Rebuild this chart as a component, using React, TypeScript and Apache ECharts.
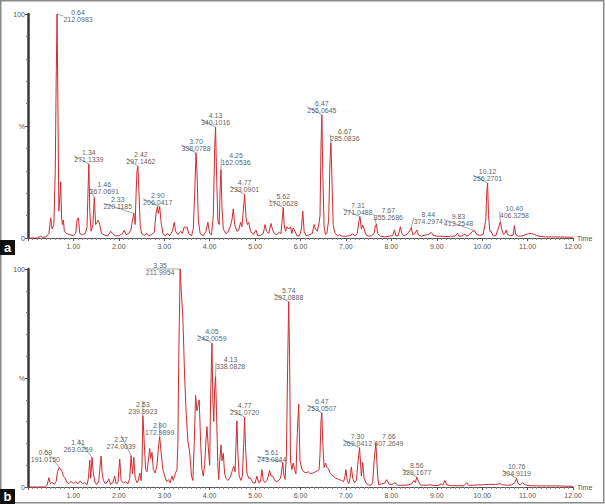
import React, { useEffect, useRef } from "react";
import * as echarts from "echarts";

// Panel a chromatogram: [retention time (min), relative intensity (%)]
const traceA: [number, number][] = [
  [0.0, 0], [0.2, 0], [0.28, 0.8], [0.32, 0.3], [0.4, 0.5], [0.46, 2], [0.5, 9], [0.53, 4], [0.57, 6],
  [0.6, 30], [0.62, 70], [0.64, 100], [0.66, 55], [0.68, 12], [0.7, 18], [0.72, 25], [0.74, 9], [0.76, 6],
  [0.78, 8], [0.8, 3], [0.85, 2], [0.92, 1.5], [1.0, 1], [1.05, 2], [1.08, 8], [1.11, 9], [1.14, 2],
  [1.2, 1.5], [1.26, 2], [1.3, 5], [1.32, 20], [1.34, 33], [1.36, 12], [1.39, 3], [1.43, 6], [1.46, 18],
  [1.49, 6], [1.52, 7], [1.55, 8], [1.58, 6], [1.62, 2], [1.7, 1.2], [1.76, 1], [1.82, 3], [1.86, 2],
  [1.92, 1], [2.0, 1], [2.08, 2], [2.12, 3.5], [2.16, 1.5], [2.22, 2], [2.27, 4], [2.3, 8], [2.33, 11],
  [2.36, 6], [2.38, 20], [2.4, 30], [2.42, 32], [2.44, 22], [2.47, 6], [2.5, 2], [2.56, 1.2], [2.62, 2],
  [2.66, 1], [2.72, 1.5], [2.78, 2.5], [2.82, 11], [2.85, 14], [2.87, 11], [2.9, 14], [2.93, 7], [2.97, 2],
  [3.02, 1], [3.08, 2], [3.12, 1], [3.18, 3], [3.22, 7], [3.25, 3], [3.3, 1.5], [3.36, 3], [3.4, 2],
  [3.44, 5], [3.47, 4.5], [3.5, 5], [3.54, 2], [3.6, 1], [3.64, 4], [3.67, 20], [3.7, 38], [3.72, 30],
  [3.75, 8], [3.79, 2], [3.86, 1], [3.92, 3], [3.96, 7], [4.0, 2], [4.04, 1.5], [4.08, 10], [4.11, 40],
  [4.13, 49.5], [4.15, 30], [4.18, 8], [4.21, 6], [4.23, 22], [4.25, 30.5], [4.27, 14], [4.3, 4],
  [4.36, 2], [4.4, 2.5], [4.45, 5], [4.49, 8], [4.52, 13], [4.55, 6], [4.6, 3], [4.64, 3.5], [4.68, 7],
  [4.71, 5], [4.74, 12], [4.77, 19.5], [4.8, 9], [4.83, 6], [4.86, 7], [4.9, 3], [4.96, 1.5], [5.02, 3.5],
  [5.06, 1], [5.12, 1.2], [5.18, 2], [5.22, 6], [5.25, 3], [5.3, 2], [5.35, 6.5], [5.38, 4], [5.42, 2],
  [5.48, 1.5], [5.53, 2.5], [5.57, 2], [5.6, 9], [5.62, 13.5], [5.64, 6], [5.67, 3], [5.7, 5], [5.74, 4],
  [5.78, 5], [5.81, 2], [5.84, 4.5], [5.88, 3], [5.92, 1], [5.98, 1], [6.02, 4], [6.05, 12], [6.08, 3],
  [6.12, 1], [6.2, 1.5], [6.26, 2], [6.3, 6], [6.33, 4], [6.37, 3], [6.41, 7], [6.43, 10], [6.45, 40],
  [6.47, 55], [6.49, 30], [6.52, 5], [6.55, 1.5], [6.58, 2], [6.62, 8], [6.65, 35], [6.67, 42.5],
  [6.69, 28], [6.72, 6], [6.76, 2], [6.82, 1], [6.86, 1.5], [6.92, 0.8], [7.0, 0.8], [7.08, 1],
  [7.15, 1.8], [7.2, 1], [7.25, 2], [7.29, 8], [7.31, 9.5], [7.34, 4], [7.37, 5.8], [7.4, 4], [7.44, 1.5],
  [7.5, 0.8], [7.56, 1], [7.62, 2], [7.65, 5.5], [7.67, 6.1], [7.7, 2], [7.76, 0.8], [7.85, 0.5],
  [7.95, 0.8], [8.03, 1], [8.07, 3.6], [8.1, 1], [8.15, 1], [8.2, 5], [8.23, 2], [8.28, 1], [8.34, 1.5],
  [8.38, 2.5], [8.41, 3.5], [8.44, 4.6], [8.47, 1.5], [8.52, 2], [8.56, 3.6], [8.6, 1.2], [8.66, 0.8],
  [8.72, 1.2], [8.8, 1.5], [8.85, 2], [8.88, 2.5], [8.92, 1.2], [9.0, 0.8], [9.1, 0.8], [9.2, 0.6],
  [9.3, 0.8], [9.4, 0.8], [9.46, 2.1], [9.49, 0.8], [9.55, 0.8], [9.62, 1.8], [9.66, 0.8], [9.72, 1.5],
  [9.78, 2.8], [9.83, 3.3], [9.88, 1.5], [9.95, 1.2], [10.02, 1.5], [10.08, 8], [10.1, 20], [10.12, 24.5],
  [10.14, 10], [10.17, 3], [10.2, 2.8], [10.24, 1], [10.3, 1], [10.35, 4], [10.4, 7.3], [10.43, 4],
  [10.47, 1.5], [10.5, 2], [10.53, 3.6], [10.56, 1.5], [10.62, 1], [10.68, 1.2], [10.71, 5.5],
  [10.74, 1.5], [10.8, 0.8], [10.9, 1], [11.0, 1.8], [11.08, 2], [11.15, 1.6], [11.25, 0.8], [11.4, 0.5],
  [11.6, 0.5], [11.8, 0.4], [12.0, 0.3],
];

// Panel b chromatogram
const traceB: [number, number][] = [
  [0.0, 0], [0.38, 0], [0.42, 0.8], [0.46, 4.3], [0.49, 1.5], [0.52, 2], [0.55, 1.8], [0.58, 1.2],
  [0.62, 2.5], [0.65, 7], [0.69, 9], [0.72, 8], [0.75, 7], [0.78, 5], [0.82, 4], [0.86, 2], [0.9, 1.5],
  [0.95, 2.6], [1.0, 1.5], [1.05, 2.5], [1.1, 1.5], [1.15, 2.8], [1.2, 1.5], [1.25, 2], [1.3, 1],
  [1.33, 4], [1.36, 12.4], [1.38, 4], [1.41, 13.6], [1.44, 6], [1.48, 1.8], [1.52, 1.2], [1.56, 3],
  [1.59, 10], [1.61, 14.2], [1.63, 7], [1.66, 3], [1.7, 1.5], [1.74, 2], [1.78, 3.7], [1.82, 1.2],
  [1.87, 2], [1.91, 5], [1.94, 1.5], [1.98, 2], [2.02, 12.8], [2.05, 3], [2.1, 1.8], [2.15, 2.5],
  [2.2, 1.5], [2.24, 4], [2.27, 14.4], [2.3, 6], [2.33, 13.6], [2.36, 4], [2.4, 2], [2.43, 3],
  [2.46, 6.4], [2.49, 3], [2.51, 10], [2.53, 32.7], [2.56, 20], [2.59, 8], [2.62, 7], [2.65, 12],
  [2.68, 17.7], [2.7, 13], [2.73, 15.9], [2.76, 8], [2.8, 6.4], [2.84, 10], [2.88, 20], [2.9, 23],
  [2.93, 16], [2.97, 8], [3.01, 5], [3.05, 2.5], [3.09, 3.4], [3.13, 2], [3.17, 5], [3.2, 3], [3.24, 6],
  [3.28, 8], [3.3, 20], [3.32, 60], [3.35, 100], [3.38, 88], [3.41, 77.5], [3.45, 50], [3.48, 35],
  [3.52, 21], [3.56, 16], [3.6, 5], [3.63, 3], [3.66, 20], [3.69, 42], [3.72, 35], [3.75, 38], [3.77, 40],
  [3.8, 21], [3.83, 8], [3.86, 5], [3.89, 10], [3.92, 22], [3.94, 27.7], [3.97, 18], [4.0, 10],
  [4.02, 40], [4.05, 66], [4.07, 40], [4.09, 30], [4.11, 45], [4.13, 50.6], [4.15, 35], [4.18, 10],
  [4.2, 3.4], [4.22, 12], [4.25, 19.3], [4.27, 12], [4.3, 15.5], [4.33, 6], [4.36, 4], [4.4, 3],
  [4.44, 4], [4.46, 5], [4.49, 7], [4.53, 9.5], [4.56, 7], [4.58, 20], [4.6, 30.4], [4.62, 16], [4.65, 5],
  [4.69, 3], [4.72, 5], [4.75, 20], [4.77, 32], [4.79, 18], [4.82, 6.4], [4.86, 4], [4.9, 4], [4.95, 2],
  [5.0, 1.8], [5.04, 5], [5.08, 2], [5.12, 2.5], [5.15, 8], [5.18, 3], [5.22, 2], [5.26, 3], [5.29, 5],
  [5.32, 7.6], [5.35, 5], [5.39, 5], [5.43, 3], [5.48, 2.5], [5.52, 3], [5.56, 4], [5.59, 8], [5.61, 11.3],
  [5.63, 6], [5.66, 3.5], [5.69, 15], [5.72, 60], [5.74, 85], [5.76, 60], [5.78, 12], [5.81, 8],
  [5.84, 11], [5.87, 8], [5.9, 6], [5.93, 25], [5.96, 38], [5.99, 12], [6.03, 8], [6.07, 7], [6.12, 6.5],
  [6.17, 7], [6.22, 6], [6.28, 6.5], [6.33, 7], [6.38, 7.5], [6.41, 8], [6.43, 15], [6.45, 30], [6.47, 34],
  [6.49, 20], [6.52, 9], [6.55, 11], [6.58, 9], [6.61, 8.5], [6.66, 6], [6.72, 5], [6.78, 4], [6.84, 3.5],
  [6.9, 3], [6.95, 2.5], [6.98, 5], [7.0, 8], [7.03, 3], [7.06, 1.5], [7.09, 4], [7.12, 9.2], [7.15, 4],
  [7.19, 2], [7.23, 3], [7.26, 10], [7.3, 18], [7.32, 12], [7.34, 5], [7.35, 7], [7.37, 11.3], [7.4, 4],
  [7.45, 1.5], [7.5, 1], [7.55, 0.8], [7.59, 2], [7.62, 12], [7.66, 20], [7.68, 12], [7.7, 5], [7.72, 1],
  [7.78, 1.5], [7.84, 1.5], [7.9, 3.4], [7.95, 1.2], [8.02, 1.2], [8.08, 2], [8.14, 0.8], [8.22, 0.8],
  [8.3, 0.8], [8.38, 1], [8.45, 1.5], [8.5, 3], [8.53, 2], [8.56, 4.6], [8.6, 2.5], [8.64, 1], [8.7, 0.8],
  [8.78, 0.8], [8.85, 1], [8.95, 0.6], [9.05, 0.8], [9.1, 1.5], [9.13, 0.8], [9.18, 3], [9.22, 1],
  [9.3, 0.6], [9.45, 0.6], [9.6, 0.6], [9.66, 2], [9.7, 0.8], [9.8, 0.8], [9.9, 1], [10.0, 1], [10.15, 1.2],
  [10.3, 1.2], [10.4, 1.5], [10.45, 1], [10.55, 0.8], [10.65, 1], [10.72, 2], [10.76, 4], [10.79, 1.5],
  [10.84, 1], [10.89, 2], [10.95, 1], [11.05, 0.6], [11.3, 0.5], [11.6, 0.5], [12.0, 0.3],
];

// Annotated peaks: [retention time, m/z]
const peaksA: [number, string][] = [
  [0.64, "212.0983"], [1.34, "271.1339"], [1.46, "267.0691"], [2.33, "220.1185"], [2.42, "297.1462"],
  [2.9, "206.0417"], [3.7, "338.0788"], [4.13, "340.1016"], [4.25, "162.0536"], [4.77, "233.0901"],
  [5.62, "170.0628"], [6.47, "255.0645"], [6.67, "285.0836"], [7.31, "271.0488"], [7.67, "355.2686"],
  [8.44, "374.2974"], [9.83, "413.2548"], [10.12, "256.2701"], [10.4, "406.3258"],
];
const peaksB: [number, string][] = [
  [0.69, "191.0150"], [1.41, "263.0259"], [2.27, "274.0039"], [2.53, "239.9923"], [2.9, "172.9899"],
  [3.35, "211.9954"], [4.05, "242.0059"], [4.13, "338.0828"], [4.77, "231.0720"], [5.61, "243.0844"],
  [5.74, "297.0888"], [6.47, "253.0507"], [7.3, "269.0412"], [7.66, "407.2649"], [8.56, "329.1677"],
  [10.76, "304.9119"],
];

// label shifts (px) from the default "above the peak" position
const shiftA: [number, number][] = [
  [21, 10], [0, 0], [10, -2], [-16, -2], [3, 0], [-2, 0], [0, 0], [0, 0], [15, -3], [0, 0],
  [0, 0], [0, 0], [14, 0], [-2, 0], [12, -2], [17, -2], [-16, -3], [0, 0], [14, -2],
];
const shiftB: [number, number][] = [
  [-14, -3], [-14, -3], [-10, -5], [0, 0], [0, 0], [-20, 8], [0, 0], [15, -6], [0, 0], [-11, 2],
  [0, 0], [0, 0], [-2, 0], [13, 5], [0, 0], [0, 0],
];

const FONT = "'Liberation Sans', Arial, sans-serif";

function peakHeight(trace: [number, number][], t: number): number {
  let best = 0;
  for (const [x, y] of trace) if (Math.abs(x - t) <= 0.015 && y > best) best = y;
  return best;
}

function xAxisFor(gridIndex: number) {
  return {
    type: "value",
    gridIndex,
    min: 0,
    max: 12,
    interval: 1,
    axisLine: { show: true, onZero: false, lineStyle: { color: "#555", width: 1 } },
    axisTick: { show: true, length: 3, lineStyle: { color: "#555" } },
    minorTick: { show: true, splitNumber: 10, length: 2, lineStyle: { color: "#888" } },
    splitLine: { show: false },
    axisLabel: {
      fontSize: 7,
      color: "#555",
      margin: 5,
      fontFamily: FONT,
      formatter: (v: number) => (v === 0 ? "" : v.toFixed(2)),
    },
    name: "Time",
    nameLocation: "end",
    nameGap: 4,
    nameTextStyle: { fontSize: 7, color: "#555", fontFamily: FONT },
  };
}

function yAxisFor(gridIndex: number) {
  return {
    type: "value",
    gridIndex,
    min: 0,
    max: 100,
    interval: 50,
    axisLine: { show: true, lineStyle: { color: "#3a3a3a", width: 2.5 } },
    axisTick: { show: true, length: 3, lineStyle: { color: "#555" } },
    minorTick: { show: true, splitNumber: 5, length: 2, lineStyle: { color: "#777" } },
    splitLine: { show: false },
    axisLabel: {
      fontSize: 7,
      color: "#555",
      margin: 3,
      fontFamily: FONT,
      formatter: (v: number) => (v === 50 ? "%" : String(v)),
    },
  };
}

function traceSeries(trace: [number, number][], idx: number) {
  return {
    type: "line",
    xAxisIndex: idx,
    yAxisIndex: idx,
    data: trace,
    showSymbol: false,
    symbol: "none",
    clip: false,
    lineStyle: { color: "#d22a2f", width: 1 },
    silent: true,
  };
}

function labelSeries(trace: [number, number][], peaks: [number, string][], shifts: [number, number][], idx: number) {
  return {
    type: "scatter",
    xAxisIndex: idx,
    yAxisIndex: idx,
    symbolSize: 0,
    silent: true,
    clip: false,
    data: peaks.map(([t, m]) => ({ value: [t, peakHeight(trace, t)], name: m })),
    label: {
      show: true,
      position: "top",
      distance: 1,
      fontSize: 7,
      lineHeight: 7,
      color: "#333",
      fontFamily: FONT,
      formatter: (p: any) => `${peaks[p.dataIndex][0].toFixed(2)}\n${peaks[p.dataIndex][1]}`,
    },
    labelLine: { show: true, length2: 0, lineStyle: { color: "#666", width: 0.6 } },
    labelLayout: (p: any) => {
      const s = shifts[p.dataIndex] || [0, 0];
      return { dx: s[0], dy: s[1] };
    },
  };
}

export default function App() {
  const ref = useRef<HTMLDivElement>(null);
  useEffect(() => {
    if (!ref.current) return;
    const chart = echarts.init(ref.current, undefined, { renderer: "svg" });
    chart.setOption({
      animation: false,
      backgroundColor: "#ffffff",
      grid: [
        { left: 28, top: 14, width: 545, height: 224 },
        { left: 28, top: 269, width: 545, height: 218 },
      ],
      xAxis: [xAxisFor(0), xAxisFor(1)],
      yAxis: [yAxisFor(0), yAxisFor(1)],
      series: [
        traceSeries(traceA, 0),
        traceSeries(traceB, 1),
        labelSeries(traceA, peaksA, shiftA, 0),
        labelSeries(traceB, peaksB, shiftB, 1),
      ],
      graphic: [
        {
          type: "rect",
          shape: { x: 0.75, y: 0.75, width: 603, height: 502 },
          style: { fill: "none", stroke: "#8a8a8a", lineWidth: 1.5 },
          silent: true,
        },
        { type: "rect", shape: { x: 0, y: 240, width: 15, height: 15 }, style: { fill: "#111" } },
        {
          type: "text",
          x: 7.5,
          y: 247.5,
          style: { text: "a", fill: "#fff", font: `bold 13px ${FONT}`, align: "center", verticalAlign: "middle" },
        },
        { type: "rect", shape: { x: 0, y: 489, width: 15, height: 15 }, style: { fill: "#111" } },
        {
          type: "text",
          x: 7.5,
          y: 496.5,
          style: { text: "b", fill: "#fff", font: `bold 13px ${FONT}`, align: "center", verticalAlign: "middle" },
        },
      ],
    });
    return () => chart.dispose();
  }, []);
  return (
    <div
      ref={ref}
      style={{ position: "fixed", left: 0, top: 0, width: 605, height: 504, background: "#fff" }}
    />
  );
}
